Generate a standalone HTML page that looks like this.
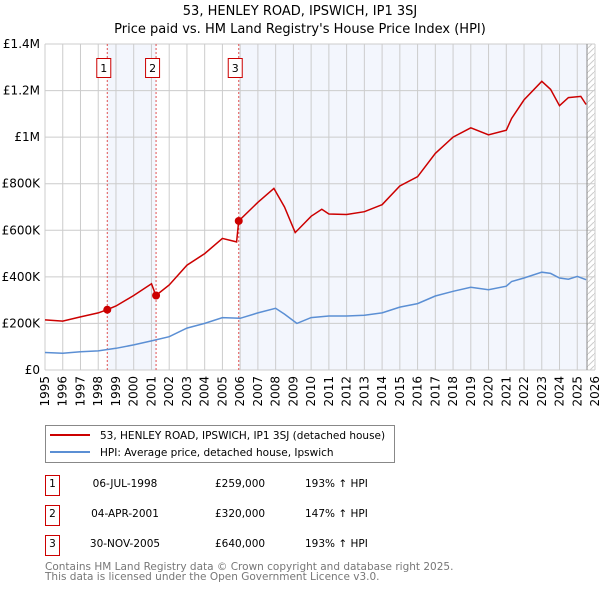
<!DOCTYPE html>
<html><head><meta charset="utf-8"><style>
body{margin:0;background:#fff;font-family:"DejaVu Sans","Liberation Sans",sans-serif;}
#wrap{position:relative;width:600px;height:590px;overflow:hidden;}
svg text{font-family:"DejaVu Sans","Liberation Sans",sans-serif;}
</style></head><body>
<div id="wrap">
<svg id="chart" width="600" height="590"></svg>
</div>
<script>
const hpiYears=[1995,1996,1997,1998,1999,2000,2001,2002,2003,2004,2005,2006,2007,2008,2008.5,2009.2,2010,2011,2012,2013,2014,2015,2016,2017,2018,2019,2020,2021,2021.3,2022,2023,2023.5,2024,2024.5,2025,2025.5];
const hpiValues=[75000,72000,78000,82000,93000,108000,125000,143000,180000,200000,225000,222000,245000,265000,240000,200000,225000,232000,232000,235000,245000,270000,285000,318000,338000,355000,345000,360000,380000,395000,420000,415000,395000,390000,402000,388000];
const redYears=[1995,1996,1997,1998,1998.5,1999,2000,2001,2001.25,2002,2003,2004,2005,2005.8,2005.92,2007,2007.9,2008.5,2009.1,2010,2010.6,2011,2012,2013,2014,2015,2016,2017,2018,2019,2020,2021,2021.3,2022,2023,2023.5,2024,2024.5,2025.2,2025.5];
const redValues=[215000,210000,228000,245000,259000,275000,320000,370000,320000,365000,450000,500000,565000,550000,640000,720000,780000,700000,590000,660000,690000,670000,668000,680000,710000,790000,830000,930000,1000000,1040000,1010000,1030000,1080000,1160000,1240000,1205000,1135000,1170000,1175000,1140000];
const saleYears=[1998.51,2001.26,2005.92];
const saleValues=[259000,320000,640000];
const yTicks=[0,200000,400000,600000,800000,1000000,1200000,1400000];
const yTickLabels=["£0","£200K","£400K","£600K","£800K","£1M","£1.2M","£1.4M"];
const xTicks=[1995,1996,1997,1998,1999,2000,2001,2002,2003,2004,2005,2006,2007,2008,2009,2010,2011,2012,2013,2014,2015,2016,2017,2018,2019,2020,2021,2022,2023,2024,2025,2026];

const NS="http://www.w3.org/2000/svg";
const svg=document.getElementById('chart');
const L=45,R=595,T=44,B=370;
const x=y=>L+(y-1995)/(2026-1995)*(R-L);
const yv=v=>B-v/1400000*(B-T);
function mk(tag,attrs,parent){const e=document.createElementNS(NS,tag);for(const k in attrs)e.setAttribute(k,attrs[k]);(parent||svg).appendChild(e);return e;}

let t=mk('text',{x:300,y:15,'text-anchor':'middle','font-size':13,fill:'#000'});t.textContent="53, HENLEY ROAD, IPSWICH, IP1 3SJ";


t=mk('text',{x:300,y:33,'text-anchor':'middle','font-size':13,fill:'#000'});t.textContent="Price paid vs. HM Land Registry's House Price Index (HPI)";



let s=mk('rect',{x:x(saleYears[0]),y:T,width:x(saleYears[1])-x(saleYears[0]),height:B-T,fill:'#f3f6fd'});


s=mk('rect',{x:x(saleYears[2]),y:T,width:x(2025.55)-x(saleYears[2]),height:B-T,fill:'#f3f6fd'});


const defs=mk('defs',{});
const pat=mk('pattern',{id:'hatch',width:6,height:6,patternUnits:'userSpaceOnUse'},defs);
mk('path',{d:'M0,6 L6,0',stroke:'#ccc','stroke-width':1},pat);
s=mk('rect',{x:x(2025.55),y:T,width:R-x(2025.55),height:B-T,fill:'url(#hatch)'});



xTicks.forEach(v=>{
  const g=mk('line',{x1:x(v),x2:x(v),y1:T,y2:B,stroke:'#ccc','stroke-width':1});
  
  
  const lb=mk('text',{transform:`translate(${x(v)+4},${B+6}) rotate(-90)`,'text-anchor':'end','font-size':12,fill:'#000'});
  lb.textContent=v;
  
  
});
yTicks.forEach((v,i)=>{
  const g=mk('line',{x1:L,x2:R,y1:yv(v),y2:yv(v),stroke:'#ccc','stroke-width':1});
  
  
  const lb=mk('text',{x:L-5,y:yv(v)+4,'text-anchor':'end','font-size':12,fill:'#000'});
  lb.textContent=yTickLabels[i];
  
  
});
let vl=mk('line',{x1:x(2025.55),x2:x(2025.55),y1:T,y2:B,stroke:'#888','stroke-width':1});



saleYears.forEach((yy,i)=>{
  const l=mk('line',{x1:x(yy),x2:x(yy),y1:T,y2:B,stroke:'#e05050','stroke-width':1,'stroke-dasharray':'2,2'});
  
  
  const g=mk('g',{});
  
  
  mk('rect',{x:x(yy)-10.5,y:58.5,width:14,height:19,fill:'#fff',stroke:'#cc0000'},g);
  const tt=mk('text',{x:x(yy)-3.5,y:72,'text-anchor':'middle','font-size':11,fill:'#000'},g);tt.textContent=i+1;
});

function path(xs,vs){return xs.map((a,i)=>(i?'L':'M')+x(a).toFixed(1)+','+yv(vs[i]).toFixed(1)).join(' ');}
let p=mk('path',{d:path(hpiYears,hpiValues),fill:'none',stroke:'#5b8fd4','stroke-width':1.5});


p=mk('path',{d:path(redYears,redValues),fill:'none',stroke:'#cc0000','stroke-width':1.5});


saleYears.forEach((yy,i)=>{
  const c=mk('circle',{cx:x(yy),cy:yv(saleValues[i]),r:4,fill:'#cc0000'});
  
  
});

const lg=mk('g',{});


mk('rect',{x:45.5,y:425.5,width:349,height:37,fill:'#fff',stroke:'#888'},lg);
mk('line',{x1:50,x2:90,y1:435,y2:435,stroke:'#cc0000','stroke-width':2},lg);
mk('line',{x1:50,x2:90,y1:452,y2:452,stroke:'#5b8fd4','stroke-width':2},lg);
t=mk('text',{x:100,y:439,'font-size':10.5,fill:'#000'},lg);t.textContent="53, HENLEY ROAD, IPSWICH, IP1 3SJ (detached house)";
t=mk('text',{x:100,y:456,'font-size':10.5,fill:'#000'},lg);t.textContent="HPI: Average price, detached house, Ipswich";

const rows=[["06-JUL-1998","£259,000","193% ↑ HPI"],["04-APR-2001","£320,000","147% ↑ HPI"],["30-NOV-2005","£640,000","193% ↑ HPI"]];
rows.forEach((r,i)=>{
  const yy=487+i*30;
  const g=mk('g',{});
  
  
  mk('rect',{x:45.5,y:yy-11.5,width:14,height:20,fill:'#fff',stroke:'#cc0000'},g);
  let tx=mk('text',{x:52.5,y:yy+0,'text-anchor':'middle','font-size':10.5,fill:'#000'},g);tx.textContent=i+1;
  tx=mk('text',{x:125,y:yy,'text-anchor':'middle','font-size':10.5,fill:'#000'},g);tx.textContent=r[0];
  tx=mk('text',{x:215,y:yy,'font-size':10.5,fill:'#000'},g);tx.textContent=r[1];
  tx=mk('text',{x:305,y:yy,'font-size':10.5,fill:'#000'},g);tx.textContent=r[2];
});
t=mk('text',{x:45,y:570,'font-size':10.5,fill:'#777'});t.textContent="Contains HM Land Registry data © Crown copyright and database right 2025.";


t=mk('text',{x:45,y:580,'font-size':10.5,fill:'#777'});t.textContent="This data is licensed under the Open Government Licence v3.0.";


</script>
</body></html>
